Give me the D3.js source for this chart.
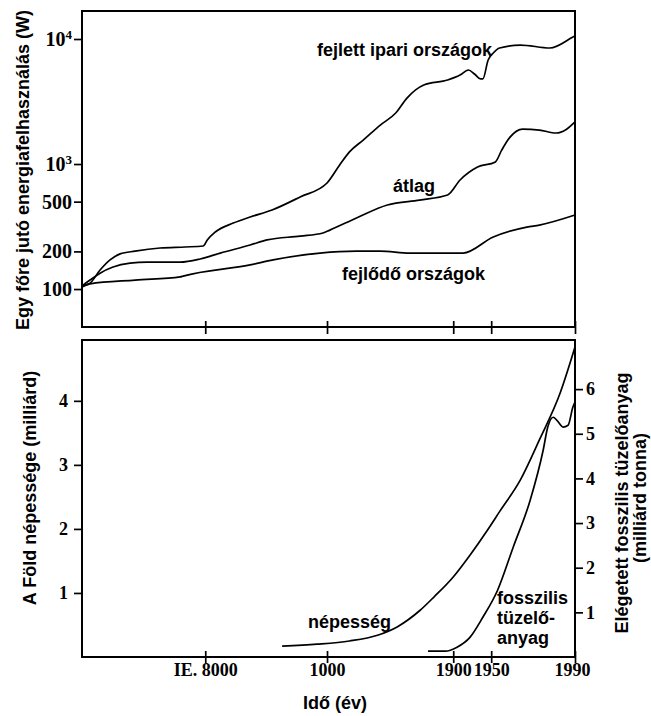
<!DOCTYPE html>
<html lang="hu">
<head>
<meta charset="utf-8">
<script src="https://cdn.jsdelivr.net/npm/d3@7"></script>
<style>
  body { margin: 0; background: #fff; }
  .sans { font-family: "Liberation Sans", Arial, sans-serif; font-weight: bold; font-size: 18px; }
  .serif { font-family: "Liberation Serif", "Times New Roman", serif; font-weight: bold; font-size: 18px; }
  .serif.big { font-size: 20px; }
  .curve { fill: none; stroke: #000; stroke-width: 1.7; }
  .frame { fill: none; stroke: #000; stroke-width: 2; }
  .tick line { stroke: #000; stroke-width: 1.7; }
</style>
</head>
<body>
<svg id="chart" width="651" height="716"></svg>
<script>
// idő: év (negatív = i.e.), energia: W / fő
const developed = [
  [-20000, 106], [-19300, 110], [-18240, 142], [-17270, 171], [-16290, 191], [-14830, 201],
  [-12390, 213], [-9950, 217], [-8200, 221], [-7850, 247], [-7260, 286], [-5930, 337],
  [-4680, 377], [-3060, 429], [-990, 545], [1000, 705], [1090, 982], [1160, 1250],
  [1260, 1560], [1380, 2050], [1490, 2560], [1570, 3370], [1690, 4290], [1860, 4700],
  [1909, 5150], [1920, 5650], [1928, 5250], [1936, 4790], [1939, 4790], [1946, 6790],
  [1951, 7730], [1954, 8470], [1964, 8950], [1978, 8470], [1989, 10380], [1990, 10600]
];
const average = [
  [-20000, 106], [-19220, 118], [-18240, 134], [-16980, 150], [-15320, 161], [-13660, 164],
  [-10440, 164], [-8490, 174], [-6890, 194], [-4680, 225], [-3430, 247], [-990, 265],
  [700, 281], [1020, 296], [1210, 370], [1430, 470], [1660, 515], [1860, 565],
  [1909, 745], [1932, 946], [1952, 1040], [1955, 1290], [1959, 1640], [1965, 1900],
  [1973, 1870], [1981, 1770], [1986, 1900], [1990, 2170]
];
const developing = [
  [-20000, 104], [-19220, 110], [-14830, 118], [-10440, 125], [-10150, 127], [-4680, 156],
  [-2980, 171], [480, 194], [1210, 201], [1380, 201], [1590, 194], [1913, 194],
  [1951, 261], [1967, 313], [1973, 325], [1990, 391]
];
// népesség: milliárd fő
const population = [
  [-2320, 0.17], [260, 0.20], [1160, 0.25], [1360, 0.34], [1500, 0.47], [1664, 0.73],
  [1764, 0.94], [1900, 1.25], [1922, 1.59], [1945, 1.98], [1954, 2.27], [1964, 2.77],
  [1973, 3.39], [1983, 4.13], [1990, 4.84]
];
// elégetett fosszilis tüzelőanyag: milliárd tonna
const fossilFuel = [
  [1720, 0.13], [1843, 0.13], [1905, 0.22], [1922, 0.44], [1939, 0.89], [1953, 1.49],
  [1960.5, 2.46], [1968.6, 3.51], [1974.8, 4.63], [1977, 5.15], [1979.6, 5.37], [1981.4, 5.30],
  [1984.3, 5.15], [1986.7, 5.19], [1989, 5.60], [1990, 5.71]
];

const timeTicks = [-8000, 1000, 1900, 1950, 1990];
const timeTickLabels = ["IE. 8000", "1000", "1900", "1950", "1990"];
const energyTicks = [100, 200, 500, 1000, 10000];
const popTicks = [1, 2, 3, 4];
const fuelTicks = [1, 2, 3, 4, 5, 6];

const svg = d3.select("#chart");
const left = 82, right = 575;
const top1 = 11, bot1 = 327, top2 = 340, bot2 = 657;

// a vízszintes tengely szakaszonként lineáris
const x = d3.scaleLinear()
  .domain([-20000, -8000, 1000, 1900, 1950, 1990])
  .range([0, 0.25, 0.497, 0.753, 0.83, 1].map(f => left + f * (right - left)));
const yE = d3.scaleLog().domain([49.7, 16750]).range([bot1, top1]);
const yP = d3.scaleLinear().domain([0, 4.95]).range([bot2, top2]);
const yF = d3.scaleLinear().domain([0, 7.1]).range([bot2, top2]);

svg.append("rect").attr("width", 651).attr("height", 716).attr("fill", "#fff");

function styleAxis(g, cls = "serif") {
  g.attr("font-size", null).attr("font-family", null).attr("class", cls);
  g.select(".domain").remove();
}

// --- felső panel ---
const axE = svg.append("g").attr("transform", `translate(${left},0)`)
  .call(d3.axisLeft(yE).tickValues(energyTicks).tickSize(8).tickPadding(2)
    .tickFormat(d => d >= 1000 ? "10" : d));
styleAxis(axE, "serif big");
axE.selectAll(".tick text").filter(d => d >= 1000)
  .append("tspan").attr("dy", "-0.55em").attr("font-size", 13).text(d => Math.log10(d));

const axT1 = svg.append("g").attr("transform", `translate(0,${bot1})`)
  .call(d3.axisBottom(x).tickValues(timeTicks).tickSize(6).tickFormat(""));
styleAxis(axT1);
axT1.selectAll(".tick line").attr("y1", -6).attr("y2", 7);

svg.append("rect").attr("class", "frame")
  .attr("x", left).attr("y", top1).attr("width", right - left).attr("height", bot1 - top1);

const lineE = d3.line().x(d => x(d[0])).y(d => yE(d[1])).curve(d3.curveMonotoneX);
[developed, average, developing].forEach(s =>
  svg.append("path").datum(s).attr("class", "curve").attr("d", lineE));

svg.append("text").attr("class", "sans").attr("x", 317).attr("y", 56).text("fejlett ipari országok");
svg.append("text").attr("class", "sans").attr("x", 393).attr("y", 192).text("átlag");
svg.append("text").attr("class", "sans").attr("x", 342).attr("y", 280).text("fejlődő országok");

svg.append("text").attr("class", "sans").attr("text-anchor", "middle")
  .attr("transform", "translate(29,170) rotate(-90)")
  .text("Egy főre jutó energiafelhasználás (W)");

// --- alsó panel ---
const axP = svg.append("g").attr("transform", `translate(${left},0)`)
  .call(d3.axisLeft(yP).tickValues(popTicks).tickSize(8).tickPadding(6).tickFormat(d3.format("d")));
styleAxis(axP);

const axF = svg.append("g").attr("transform", `translate(${right},0)`)
  .call(d3.axisRight(yF).tickValues(fuelTicks).tickSize(8).tickPadding(3).tickFormat(d3.format("d")));
styleAxis(axF);

const axT2 = svg.append("g").attr("transform", `translate(0,${bot2})`)
  .call(d3.axisBottom(x).tickValues(timeTicks).tickSize(6)
    .tickFormat((d, i) => timeTickLabels[i]));
styleAxis(axT2);
axT2.selectAll(".tick line").attr("y1", -6).attr("y2", 6);
axT2.selectAll(".tick text").attr("y", 19).attr("dy", null)
  .attr("dx", d => d === 1990 ? -3 : 0);

svg.append("rect").attr("class", "frame")
  .attr("x", left).attr("y", top2).attr("width", right - left).attr("height", bot2 - top2);

const lineP = d3.line().x(d => x(d[0])).y(d => yP(d[1])).curve(d3.curveMonotoneX);
const lineF = d3.line().x(d => x(d[0])).y(d => yF(d[1])).curve(d3.curveMonotoneX);
svg.append("path").datum(population).attr("class", "curve").attr("d", lineP);
svg.append("path").datum(fossilFuel).attr("class", "curve").attr("d", lineF);

svg.append("text").attr("class", "sans").attr("x", 308).attr("y", 628).text("népesség");
const fuelLabel = svg.append("text").attr("class", "sans").attr("x", 497).attr("y", 604);
["fosszilis", "tüzelő-", "anyag"].forEach((t, i) =>
  fuelLabel.append("tspan").attr("x", 497).attr("dy", i ? 20 : 0).text(t));

svg.append("text").attr("class", "sans").attr("text-anchor", "middle")
  .attr("transform", "translate(36,488) rotate(-90)")
  .text("A Föld népessége (milliárd)");
svg.append("text").attr("class", "sans").attr("text-anchor", "middle")
  .attr("transform", "translate(628,503) rotate(-90)")
  .text("Elégetett fosszilis tüzelőanyag");
svg.append("text").attr("class", "sans").attr("text-anchor", "middle")
  .attr("transform", "translate(646,498) rotate(-90)")
  .text("(milliárd tonna)");

svg.append("text").attr("class", "sans").attr("text-anchor", "middle")
  .attr("x", 335).attr("y", 709).text("Idő (év)");
</script>
</body>
</html>
